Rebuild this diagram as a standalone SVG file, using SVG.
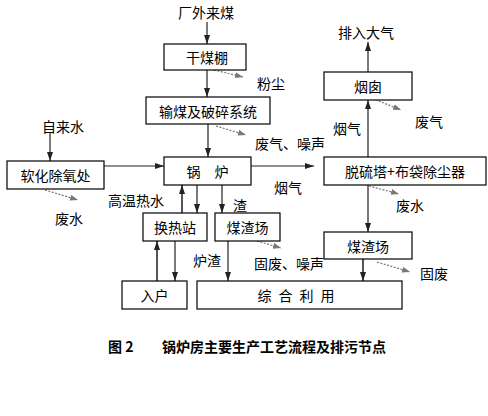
<svg xmlns="http://www.w3.org/2000/svg" width="488" height="416" viewBox="0 0 488 416">
<defs>
<style>
.box{fill:#fff;stroke:#000;stroke-width:1.2}
.t{font-family:"Noto Sans CJK SC","Liberation Sans",sans-serif;font-size:14px;fill:#000}
.c{text-anchor:middle;dominant-baseline:central}
.ln{stroke:#222;stroke-width:1.2;fill:none;marker-end:url(#a)}
.up{stroke:#555;stroke-width:2;fill:none;marker-end:url(#a)}
.dt{stroke:#777;stroke-width:1.2;stroke-dasharray:2,1.5;fill:none;marker-end:url(#d)}
.cap{font-family:"Noto Sans CJK SC","Liberation Sans",sans-serif;font-size:14px;font-weight:bold;fill:#000}
</style>
<marker id="a" markerUnits="userSpaceOnUse" markerWidth="10" markerHeight="8" refX="9" refY="3" orient="auto"><path d="M0,0 L9,3 L0,6 z" fill="#222"/></marker>
<marker id="d" markerUnits="userSpaceOnUse" markerWidth="10" markerHeight="8" refX="8" refY="3" orient="auto"><path d="M0,0 L8,3 L0,6 z" fill="#777"/></marker>
</defs>
<rect width="488" height="416" fill="#fff"/>
<g id="connectors">
<line class="ln" x1="207" y1="22" x2="207" y2="44"/>
<line class="ln" x1="207" y1="70" x2="207" y2="97"/>
<line class="dt" x1="214" y1="70" x2="243" y2="77"/>
<line class="ln" x1="208" y1="124" x2="208" y2="157"/>
<line class="dt" x1="216" y1="126" x2="246" y2="135"/>
<line class="ln" x1="50" y1="133" x2="50" y2="161"/>
<line class="ln" x1="104" y1="166" x2="164" y2="166"/>
<line class="dt" x1="45" y1="190" x2="78" y2="200"/>
<line class="ln" x1="251" y1="166" x2="314" y2="166"/>
<line class="ln" x1="368" y1="157" x2="368" y2="100"/>
<line class="ln" x1="368" y1="72" x2="368" y2="42"/>
<line class="dt" x1="369" y1="97" x2="401" y2="110"/>
<line class="ln" x1="368" y1="185" x2="368" y2="232"/>
<line class="dt" x1="369" y1="186" x2="399" y2="194"/>
<line class="up" x1="182" y1="213" x2="182" y2="185"/>
<line class="ln" x1="197" y1="185" x2="197" y2="213"/>
<line class="ln" x1="222" y1="185" x2="222" y2="213"/>
<line class="up" x1="157" y1="281" x2="157" y2="241"/>
<line class="ln" x1="175" y1="241" x2="175" y2="281"/>
<line class="ln" x1="228" y1="241" x2="228" y2="281"/>
<line class="dt" x1="257" y1="241" x2="281" y2="248"/>
<line class="up" x1="363" y1="259" x2="363" y2="281"/>
<line class="dt" x1="377" y1="262" x2="410" y2="272"/>
</g>
<g id="n-gmp"><rect class="box" x="164" y="44" width="82" height="26"/><text class="t c" x="207" y="57">干煤棚</text></g>
<g id="n-ssm"><rect class="box" x="146" y="97" width="124" height="27"/><text class="t c" x="208" y="110.5">输煤及破碎系统</text></g>
<g id="n-rh"><rect class="box" x="7" y="161" width="97" height="28"/><text class="t c" x="55.5" y="175">软化除氧处</text></g>
<g id="n-gl"><rect class="box" x="164" y="157" width="87" height="28"/><text class="t c" x="207.5" y="171">锅　炉</text></g>
<g id="n-tl"><rect class="box" x="324" y="157" width="162" height="28"/><text class="t c" x="405" y="171">脱硫塔+布袋除尘器</text></g>
<g id="n-yc"><rect class="box" x="324" y="72" width="88" height="28"/><text class="t c" x="368" y="86">烟囱</text></g>
<g id="n-hr"><rect class="box" x="143" y="213" width="64" height="28"/><text class="t c" x="175" y="227">换热站</text></g>
<g id="n-mz1"><rect class="box" x="215" y="213" width="65" height="28"/><text class="t c" x="247.5" y="227">煤渣场</text></g>
<g id="n-mz2"><rect class="box" x="324" y="232" width="88" height="27"/><text class="t c" x="368" y="245.5">煤渣场</text></g>
<g id="n-rhu"><rect class="box" x="122" y="281" width="65" height="28"/><text class="t c" x="154.5" y="295">入户</text></g>
<g id="n-zh"><rect class="box" x="197" y="281" width="205" height="28"/><text class="t c" x="299.5" y="295" letter-spacing="7">综合利用</text></g>
<g id="labels">
<text class="t c" x="206" y="12">厂外来煤</text>
<text class="t c" x="271" y="83">粉尘</text>
<text class="t c" x="63" y="126">自来水</text>
<text class="t c" x="290" y="143">废气、噪声</text>
<text class="t c" x="69" y="218">废水</text>
<text class="t c" x="136" y="200">高温热水</text>
<text class="t c" x="240" y="205">渣</text>
<text class="t c" x="288" y="187">烟气</text>
<text class="t c" x="366" y="32">排入大气</text>
<text class="t c" x="429" y="121">废气</text>
<text class="t c" x="347" y="128">烟气</text>
<text class="t c" x="410" y="205">废水</text>
<text class="t c" x="207" y="260">炉渣</text>
<text class="t c" x="289" y="263">固废、噪声</text>
<text class="t c" x="434" y="273">固废</text>
</g>
<g id="caption">
<text class="cap" x="108" y="352">图 2</text>
<text class="cap" x="162" y="352">锅炉房主要生产工艺流程及排污节点</text>
</g>
</svg>
